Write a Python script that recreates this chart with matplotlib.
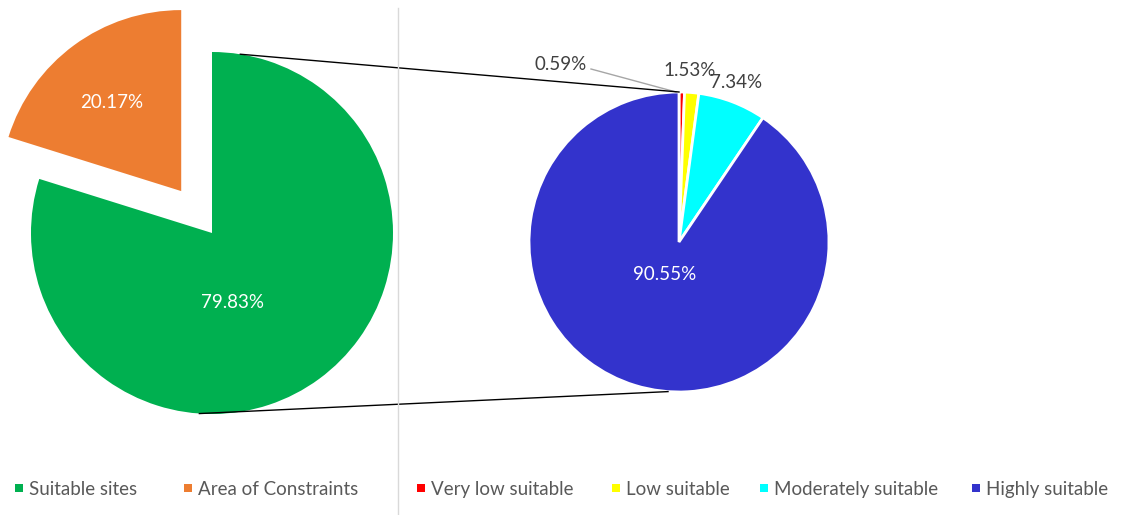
import numpy as np
import matplotlib.pyplot as plt

# overall split
main_labels = ['Suitable sites', 'Area of Constraints']
main_share = [79.83, 20.17]
main_colors = ['#00B050', '#ED7D31']

# breakdown of the suitable sites
sub_labels = ['Very low suitable', 'Low suitable', 'Moderately suitable', 'Highly suitable']
sub_share = [0.59, 1.53, 7.34, 90.55]
sub_colors = ['#FF0000', '#FFFF00', '#00FFFF', '#3333CC']

W, H = 1132, 515
plt.rcParams['font.family'] = ['Lato', 'DejaVu Sans']

fig = plt.figure(figsize=(W / 100, H / 100), dpi=100)
ax = fig.add_axes([0, 0, 1, 1])

c1, r1 = (212, H - 233), 181
c2, r2 = (679, H - 242), 150

# explode is in data units here (pixels)
w1, _ = ax.pie(main_share, colors=main_colors, startangle=90, counterclock=False,
               center=c1, radius=r1, explode=[0, 52], frame=True,
               wedgeprops=dict(linewidth=0))
w2, _ = ax.pie(sub_share, colors=sub_colors, startangle=90, counterclock=False,
               center=c2, radius=r2, frame=True,
               wedgeprops=dict(linewidth=2, edgecolor='white'))

ax.set_xlim(0, W)
ax.set_ylim(0, H)
ax.axis('off')

fs = 13.5
# percentage labels
ax.text(112, H - 102, f'{main_share[1]:.2f}%', color='white', fontsize=fs, ha='center', va='center')
ax.text(232, H - 302, f'{main_share[0]:.2f}%', color='white', fontsize=fs, ha='center', va='center')
ax.text(665, H - 275, f'{sub_share[3]:.2f}%', color='white', fontsize=fs, ha='center', va='center')
ax.text(561, H - 65, f'{sub_share[0]:.2f}%', color='#404040', fontsize=fs, ha='center', va='center')
ax.plot([591, 676], [H - 69, H - 92], color='#A6A6A6', lw=1)
ax.text(690, H - 70, f'{sub_share[1]:.2f}%', color='#404040', fontsize=fs, ha='center', va='center')
ax.text(736, H - 82, f'{sub_share[2]:.2f}%', color='#404040', fontsize=fs, ha='center', va='center')

# connector lines between the two pies
def on_circle(c, r, deg):
    a = np.radians(deg)
    return c[0] + r * np.cos(a), c[1] + r * np.sin(a)

for a1, a2 in [(81, 90), (266, 265.8)]:
    p, q = on_circle(c1, r1, a1), on_circle(c2, r2, a2)
    ax.plot([p[0], q[0]], [p[1], q[1]], color='black', lw=1)

# divider
ax.plot([398, 398], [0, H - 8], color='#D9D9D9', lw=1)

# legend rows under each pie
marker_x = [19, 188, 421, 616, 764, 976]
labels = main_labels + sub_labels
colors = main_colors + sub_colors
for mx, lab, col in zip(marker_x, labels, colors):
    ax.plot(mx, H - 488, marker='s', ms=5.5, color=col, mew=0, ls='none')
    ax.text(mx + 10, H - 495, lab, fontsize=fs, color='#595959', ha='left', va='baseline')

fig.savefig('out.png', dpi=100)
